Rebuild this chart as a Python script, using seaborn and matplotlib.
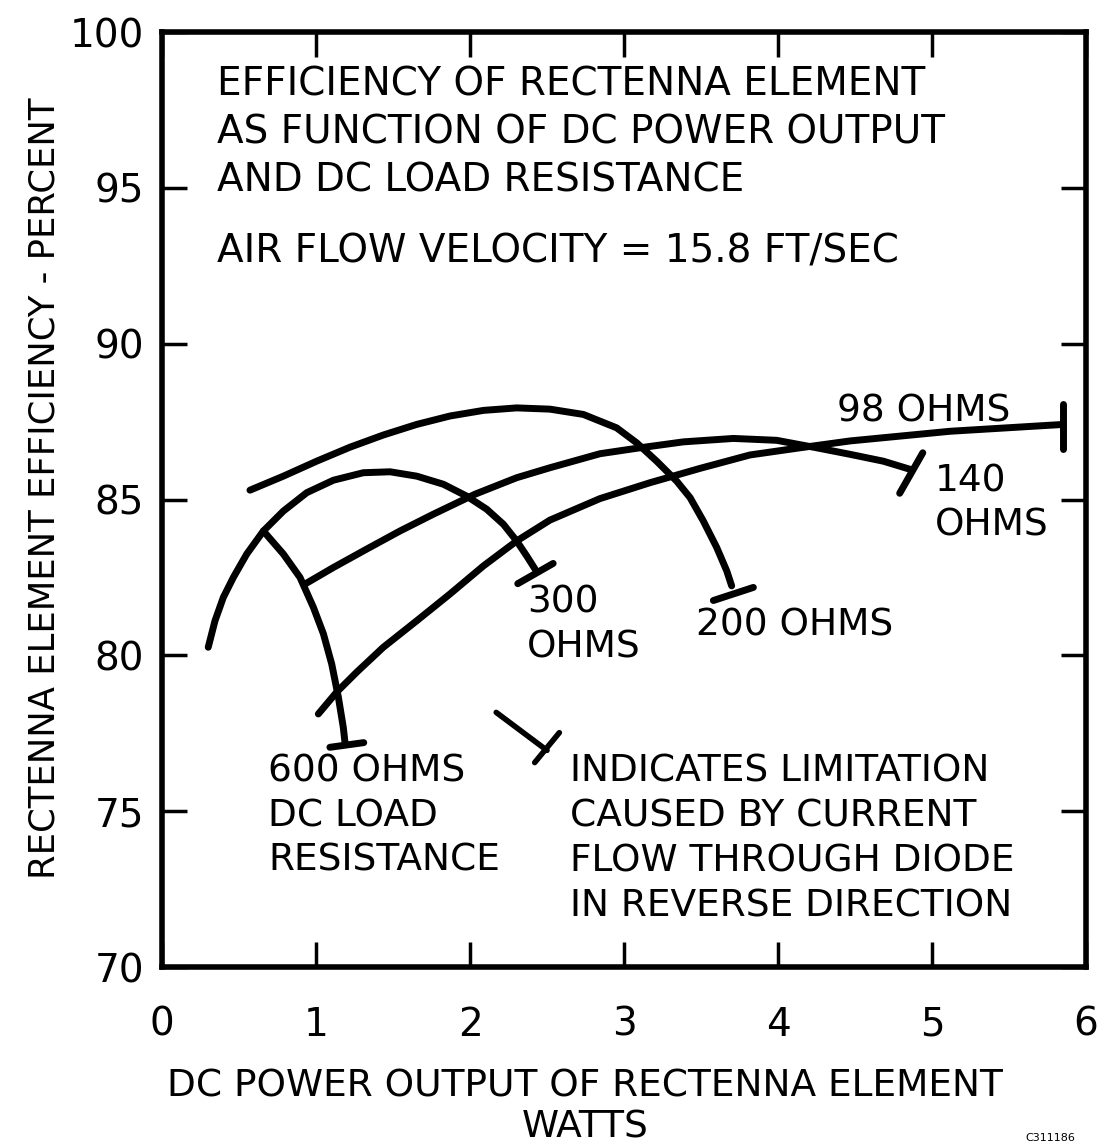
import numpy as np
import pandas as pd
import seaborn as sns
from matplotlib import pyplot as plt

# curvas: x = potencia DC (W), y = eficiencia (%)
x_300 = [0.30, 0.344, 0.398, 0.463, 0.55, 0.658, 0.788, 0.94, 1.113, 1.307, 1.481, 1.654,
         1.827, 1.978, 2.108, 2.216, 2.303, 2.368, 2.422]
y_300 = [80.26, 81.11, 81.86, 82.5, 83.25, 83.99, 84.63, 85.22, 85.62, 85.86, 85.89, 85.75,
         85.49, 85.11, 84.69, 84.21, 83.67, 83.19, 82.77]

x_200 = [0.571, 0.788, 1.004, 1.221, 1.437, 1.654, 1.87, 2.087, 2.303, 2.519, 2.736, 2.952,
         3.082, 3.212, 3.342, 3.429, 3.515, 3.602, 3.667, 3.699]
y_200 = [85.3, 85.75, 86.23, 86.68, 87.07, 87.41, 87.68, 87.86, 87.94, 87.9, 87.73, 87.3,
         86.82, 86.23, 85.59, 85.06, 84.31, 83.46, 82.71, 82.23]

x_140 = [0.929, 1.113, 1.329, 1.545, 1.762, 2.032, 2.303, 2.519, 2.844, 3.104, 3.385, 3.71,
         3.991, 4.251, 4.468, 4.684, 4.857]
y_140 = [82.29, 82.82, 83.41, 83.99, 84.53, 85.17, 85.7, 86.02, 86.47, 86.66, 86.85, 86.96,
         86.9, 86.66, 86.45, 86.23, 85.97]

x_98 = [1.015, 1.134, 1.264, 1.437, 1.654, 1.87, 2.087, 2.303, 2.519, 2.844, 3.169, 3.494,
        3.818, 4.143, 4.468, 5.117, 5.853]
y_98 = [78.12, 78.82, 79.46, 80.26, 81.11, 81.97, 82.87, 83.67, 84.34, 85.03, 85.54, 86.0,
        86.43, 86.66, 86.88, 87.19, 87.41]

x_600 = [0.658, 0.788, 0.896, 0.983, 1.048, 1.102, 1.145, 1.177, 1.188]
y_600 = [83.99, 83.25, 82.5, 81.54, 80.69, 79.72, 78.66, 77.69, 77.21]

# barras de limite al final de cada curva
bar_x = [[2.31, 2.54], [3.58, 3.84], [4.79, 4.94], [5.853, 5.853], [1.09, 1.31]]
bar_y = [[82.3, 82.95], [81.76, 82.18], [85.2, 86.5], [86.62, 88.08], [77.05, 77.2]]

# simbolo de la leyenda
sym_x = [2.17, 2.50]
sym_y = [78.17, 76.95]
sym_bar_x = [2.42, 2.58]
sym_bar_y = [76.56, 77.52]

x_ticks = [0, 1, 2, 3, 4, 5, 6]
y_ticks = [70, 75, 80, 85, 90, 95, 100]

sns.set_theme(style='ticks')
plt.rcParams['font.family'] = ['DejaVu Sans']
plt.rcParams['text.color'] = 'black'
plt.rcParams['axes.labelcolor'] = 'black'

fig, ax = plt.subplots(figsize=(11.03, 11.44), dpi=100)
fig.subplots_adjust(left=0.1469, right=0.9846, bottom=0.1547, top=0.972)

curvas = [(x_300, y_300), (x_200, y_200), (x_140, y_140), (x_98, y_98), (x_600, y_600)]
for xs, ys in curvas:
    sns.lineplot(x=xs, y=ys, ax=ax, color='black', lw=5, sort=False, estimator=None,
                 solid_capstyle='round', solid_joinstyle='round')
for bx, by in zip(bar_x, bar_y):
    ax.plot(bx, by, color='black', lw=5, solid_capstyle='round')
ax.plot(sym_x, sym_y, color='black', lw=4, solid_capstyle='round')
ax.plot(sym_bar_x, sym_bar_y, color='black', lw=4, solid_capstyle='round')

ax.set_xlim(0, 6)
ax.set_ylim(70, 100)
ax.set_xticks(x_ticks)
ax.set_yticks(y_ticks)
ax.tick_params(direction='in', length=18, width=2.5, top=True, right=True,
               labelsize=28, colors='black')
ax.tick_params(axis='x', pad=28)
ax.tick_params(axis='y', pad=13)
for s in ax.spines.values():
    s.set_linewidth(4)
    s.set_color('black')

ax.set_ylabel('RECTENNA ELEMENT EFFICIENCY - PERCENT', fontsize=25.5)
ax.yaxis.set_label_coords(-0.109, 0.512)
ax.set_xlabel('DC POWER OUTPUT OF RECTENNA ELEMENT\nWATTS', fontsize=27)
ax.xaxis.set_label_coords(0.458, -0.108)

fs = 27
ax.text(0.36, 96.77, 'EFFICIENCY OF RECTENNA ELEMENT\nAS FUNCTION OF DC POWER OUTPUT\nAND DC LOAD RESISTANCE',
        fontsize=28, va='center', ha='left', linespacing=1.33)
ax.text(0.36, 92.96, 'AIR FLOW VELOCITY = 15.8 FT/SEC', fontsize=28, va='center', ha='left')
ax.text(4.38, 87.84, '98 OHMS', fontsize=fs, va='center')
ax.text(5.02, 84.88, '140\nOHMS', fontsize=fs, va='center', linespacing=1.27)
ax.text(2.37, 80.98, '300\nOHMS', fontsize=fs, va='center', linespacing=1.33)
ax.text(3.47, 80.95, '200 OHMS', fontsize=fs, va='center')
ax.text(0.69, 74.84, '600 OHMS\nDC LOAD\nRESISTANCE', fontsize=fs, va='center', linespacing=1.31)
ax.text(2.65, 74.1, 'INDICATES LIMITATION\nCAUSED BY CURRENT\nFLOW THROUGH DIODE\nIN REVERSE DIRECTION',
        fontsize=fs, va='center', linespacing=1.32)

fig.text(0.93, 0.001, 'C311186', fontsize=8, va='bottom')

plt.savefig('out.png', dpi=100)
